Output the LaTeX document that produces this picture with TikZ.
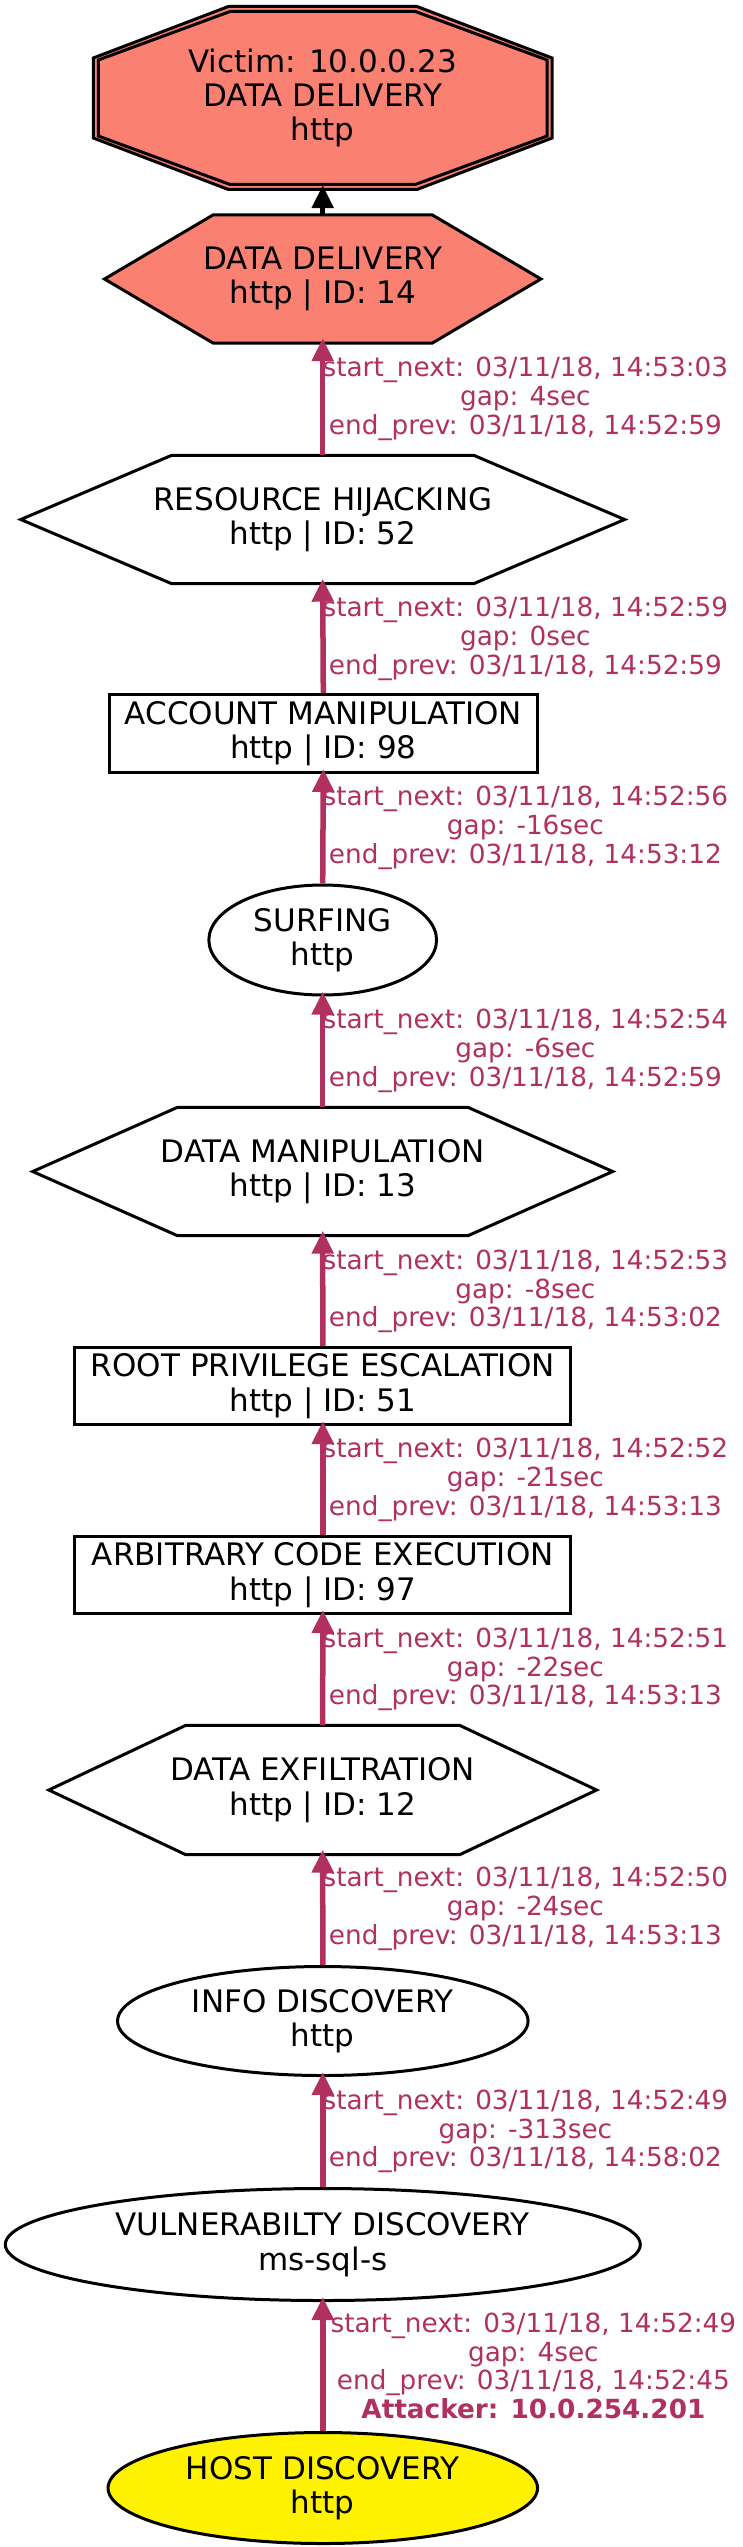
\documentclass[tikz,border=0pt]{standalone}
\usepackage{fontspec}
\setmainfont{DejaVu Sans}
\usetikzlibrary{arrows.meta,shapes.geometric,calc,backgrounds}
\definecolor{salmonfill}{HTML}{FA8072}
\definecolor{edgecol}{HTML}{B03060}
\begin{document}
\begin{tikzpicture}[x=1pt,y=-1pt,
  nodetext/.style={font=\fontsize{31}{34.4}\selectfont, align=center, text=black},
  boxnode/.style={nodetext, draw=black, line width=3pt, rectangle, inner sep=0pt},
  ellnode/.style={nodetext, draw=black, line width=3pt, ellipse, inner sep=0pt},
  hexbase/.style={nodetext, rectangle, inner sep=0pt},
  hexline/.style={draw=black, line width=3pt, line join=miter},
  flow/.style={draw=edgecol, line width=5.5pt, shorten >=-5pt, -{Triangle[length=23pt,width=21pt]}},
  blackflow/.style={draw=black, line width=5.5pt, shorten >=-4.5pt, -{Triangle[length=23pt,width=21pt]}},
  elabel/.style={font=\fontsize{26.3}{28.7}\selectfont, text=edgecol, align=center, inner sep=0pt}
]
\useasboundingbox (0,0) rectangle (743,2547);
\begin{scope}[on background layer]
\fill[white] (0,0) rectangle (743,2547);
\end{scope}

% Victim octagon (double border)
\node[hexbase, minimum width=458pt, minimum height=183pt] (victim) at (322.7,98)
  {Victim: 10.0.0.23\\DATA DELIVERY\\http};
\begin{scope}[on background layer]
\filldraw[hexline, fill=salmonfill] ($(victim.center)+(-94.3,-91.5)$) -- ($(victim.center)+(94.3,-91.5)$) -- ($(victim.center)+(229.4,-40)$) -- ($(victim.center)+(229.4,40)$) -- ($(victim.center)+(94.3,91.5)$) -- ($(victim.center)+(-94.3,91.5)$) -- ($(victim.center)+(-229.4,40)$) -- ($(victim.center)+(-229.4,-40)$) -- cycle;
\draw[hexline] ($(victim.center)+(-92.6,-86.5)$) -- ($(victim.center)+(92.6,-86.5)$) -- ($(victim.center)+(224.4,-38)$) -- ($(victim.center)+(224.4,38)$) -- ($(victim.center)+(92.6,86.5)$) -- ($(victim.center)+(-92.6,86.5)$) -- ($(victim.center)+(-224.4,38)$) -- ($(victim.center)+(-224.4,-38)$) -- cycle;
\end{scope}

% DATA DELIVERY hexagon
\node[hexbase, minimum width=436pt, minimum height=128pt] (dd) at (322.7,279) {DATA DELIVERY\\http | ID: 14};
\begin{scope}[on background layer]
\filldraw[hexline, fill=salmonfill] (dd.west) -- ($(dd.north)+(-109.4,0)$) -- ($(dd.north)+(109.4,0)$) -- (dd.east) -- ($(dd.south)+(109.4,0)$) -- ($(dd.south)+(-109.4,0)$) -- cycle;
\end{scope}

% RESOURCE HIJACKING hexagon
\node[hexbase, minimum width=603.4pt, minimum height=128pt] (rh) at (322.7,519.5) {RESOURCE HIJACKING\\http | ID: 52};
\draw[hexline] (rh.west) -- ($(rh.north)+(-151,0)$) -- ($(rh.north)+(151,0)$) -- (rh.east) -- ($(rh.south)+(151,0)$) -- ($(rh.south)+(-151,0)$) -- cycle;

% ACCOUNT MANIPULATION box
\node[boxnode, minimum width=427.6pt, minimum height=78pt] (am) at (323.3,733.5) {ACCOUNT MANIPULATION\\http | ID: 98};

% SURFING ellipse
\node[ellnode, minimum width=227.7pt, minimum height=110pt] (surf) at (322.7,940) {SURFING\\http};

% DATA MANIPULATION hexagon
\node[hexbase, minimum width=579.6pt, minimum height=128pt] (dm) at (322.7,1171.5) {DATA MANIPULATION\\http | ID: 13};
\draw[hexline] (dm.west) -- ($(dm.north)+(-145.2,0)$) -- ($(dm.north)+(145.2,0)$) -- (dm.east) -- ($(dm.south)+(145.2,0)$) -- ($(dm.south)+(-145.2,0)$) -- cycle;

% ROOT PRIVILEGE ESCALATION box
\node[boxnode, minimum width=495.8pt, minimum height=77pt] (rpe) at (322.8,1386) {ROOT PRIVILEGE ESCALATION\\http | ID: 51};

% ARBITRARY CODE EXECUTION box
\node[boxnode, minimum width=495.8pt, minimum height=77pt] (ace) at (322.8,1575) {ARBITRARY CODE EXECUTION\\http | ID: 97};

% DATA EXFILTRATION hexagon
\node[hexbase, minimum width=547.4pt, minimum height=129pt] (de) at (322.7,1790) {DATA EXFILTRATION\\http | ID: 12};
\draw[hexline] (de.west) -- ($(de.north)+(-136.9,0)$) -- ($(de.north)+(136.9,0)$) -- (de.east) -- ($(de.south)+(136.9,0)$) -- ($(de.south)+(-136.9,0)$) -- cycle;

% INFO DISCOVERY ellipse
\node[ellnode, minimum width=410.5pt, minimum height=109pt] (info) at (322.8,2021) {INFO DISCOVERY\\http};

% VULNERABILTY DISCOVERY ellipse
\node[ellnode, minimum width=635pt, minimum height=112pt] (vuln) at (322.8,2244.5) {VULNERABILTY DISCOVERY\\ms-sql-s};

% HOST DISCOVERY ellipse
\node[ellnode, fill=yellow, minimum width=429.5pt, minimum height=111pt] (host) at (322.8,2488) {HOST DISCOVERY\\http};

% connectors
\draw[blackflow] (dd.north) -- (victim.south);
\draw[flow] (rh.north) -- (dd.south);
\draw[flow] (am.north) -- (rh.south);
\draw[flow] (surf.north) -- (am.south);
\draw[flow] (dm.north) -- (surf.south);
\draw[flow] (rpe.north) -- (dm.south);
\draw[flow] (ace.north) -- (rpe.south);
\draw[flow] (de.north) -- (ace.south);
\draw[flow] (info.north) -- (de.south);
\draw[flow] (vuln.north) -- (info.south);
\draw[flow] (host.north) -- (vuln.south);

% labels
\node[elabel] (l1) at (525.4,398.7) {start\_next: 03/11/18, 14:53:03\\gap: 4sec\\end\_prev: 03/11/18, 14:52:59};
\node[elabel] (l2) at (525.4,638.7) {start\_next: 03/11/18, 14:52:59\\gap: 0sec\\end\_prev: 03/11/18, 14:52:59};
\node[elabel] (l3) at (525.4,828) {start\_next: 03/11/18, 14:52:56\\gap: -16sec\\end\_prev: 03/11/18, 14:53:12};
\node[elabel] (l4) at (525.4,1051) {start\_next: 03/11/18, 14:52:54\\gap: -6sec\\end\_prev: 03/11/18, 14:52:59};
\node[elabel] (l5) at (525.4,1291.5) {start\_next: 03/11/18, 14:52:53\\gap: -8sec\\end\_prev: 03/11/18, 14:53:02};
\node[elabel] (l6) at (525.4,1479.8) {start\_next: 03/11/18, 14:52:52\\gap: -21sec\\end\_prev: 03/11/18, 14:53:13};
\node[elabel] (l7) at (525.4,1669.5) {start\_next: 03/11/18, 14:52:51\\gap: -22sec\\end\_prev: 03/11/18, 14:53:13};
\node[elabel] (l8) at (525.4,1909) {start\_next: 03/11/18, 14:52:50\\gap: -24sec\\end\_prev: 03/11/18, 14:53:13};
\node[elabel] (l9) at (525.4,2131.4) {start\_next: 03/11/18, 14:52:49\\gap: -313sec\\end\_prev: 03/11/18, 14:58:02};
\node[elabel] (l10) at (533.4,2365.8) {start\_next: 03/11/18, 14:52:49\\gap: 4sec\\end\_prev: 03/11/18, 14:52:45\\\textbf{Attacker: 10.0.254.201}};
\end{tikzpicture}
\end{document}
